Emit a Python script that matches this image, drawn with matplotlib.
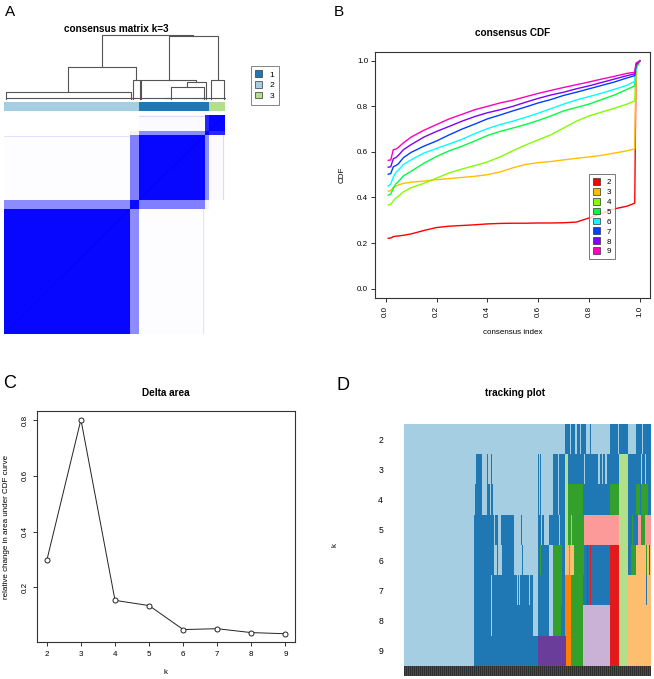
import numpy as np
import matplotlib
matplotlib.use("Agg")
import matplotlib.pyplot as plt
from matplotlib.colors import ListedColormap, LinearSegmentedColormap
from matplotlib.patches import Patch

plt.rcParams['font.family'] = ['Liberation Sans', 'DejaVu Sans']

# ---------------- data ----------------
# A: consensus matrix k=3, built from sample groups and group-to-group consensus
group_sizes = [126, 9, 66, 4, 16]
group_cluster = [2, 2, 1, 1, 3]
group_consensus = [
    [0.97, 0.45, 0.01, 0.00, 0.00],
    [0.45, 0.95, 0.50, 0.05, 0.00],
    [0.01, 0.50, 0.97, 0.45, 0.02],
    [0.00, 0.05, 0.45, 0.95, 0.85],
    [0.00, 0.00, 0.02, 0.85, 0.97],
]
stray_samples = [199, 219]
stray_group = [0, 2]
stray_value = [0.12, 0.15]
cluster_names = ['1', '2', '3']
cluster_colors = ['#1F78B4', '#A6CEE3', '#B2DF8A']

# dendrogram: node = (height, left, right); leaf = (x, comb_lo, comb_hi)
dendro = (1.00,
          (0.496,
           (0.104, (1, 1, 1), (126, 1, 126)),
           (0.302, (128.3, 126, 130), (135, 130, 135))),
          (0.972,
           (0.299, (136.7, 135, 165),
            (0.264, (0.181, (166, 160, 190), (199, 190, 200)), (201, 196, 204))),
           (0.299, (206.7, 204, 210), (219.3, 210, 220))))

# B: consensus CDF
cdf_x = [0.01, 0.02, 0.03, 0.04, 0.05, 0.07, 0.1, 0.15, 0.2, 0.25, 0.3, 0.35, 0.4, 0.45,
         0.5, 0.55, 0.6, 0.65, 0.7, 0.75, 0.8, 0.85, 0.9, 0.95, 0.98, 0.985, 1.0]
cdf_k2 = [0.221, 0.222, 0.228, 0.230, 0.231, 0.234, 0.240, 0.255, 0.268, 0.274, 0.277, 0.280, 0.284, 0.286,
          0.287, 0.287, 0.288, 0.288, 0.289, 0.292, 0.310, 0.330, 0.350, 0.362, 0.375, 0.98, 1.0]
cdf_k3 = [0.428, 0.430, 0.445, 0.450, 0.455, 0.462, 0.467, 0.472, 0.478, 0.483, 0.488, 0.493, 0.500, 0.512,
          0.530, 0.545, 0.553, 0.558, 0.565, 0.572, 0.578, 0.585, 0.595, 0.605, 0.613, 0.97, 1.0]
cdf_k4 = [0.367, 0.370, 0.385, 0.398, 0.405, 0.425, 0.443, 0.462, 0.485, 0.508, 0.525, 0.540, 0.556, 0.578,
          0.605, 0.630, 0.653, 0.675, 0.705, 0.735, 0.758, 0.775, 0.792, 0.810, 0.824, 0.96, 1.0]
cdf_k5 = [0.410, 0.415, 0.440, 0.460, 0.470, 0.495, 0.515, 0.550, 0.580, 0.605, 0.625, 0.648, 0.672, 0.690,
          0.705, 0.720, 0.738, 0.758, 0.780, 0.795, 0.810, 0.830, 0.850, 0.875, 0.890, 0.97, 1.0]
cdf_k6 = [0.450, 0.460, 0.490, 0.510, 0.520, 0.545, 0.565, 0.595, 0.615, 0.635, 0.655, 0.680, 0.702, 0.720,
          0.735, 0.752, 0.770, 0.790, 0.810, 0.828, 0.843, 0.858, 0.875, 0.893, 0.910, 0.975, 1.0]
cdf_k7 = [0.502, 0.505, 0.535, 0.540, 0.548, 0.575, 0.598, 0.625, 0.648, 0.675, 0.700, 0.722, 0.745, 0.762,
          0.780, 0.797, 0.815, 0.830, 0.848, 0.862, 0.877, 0.892, 0.907, 0.925, 0.935, 0.98, 1.0]
cdf_k8 = [0.533, 0.535, 0.570, 0.575, 0.585, 0.610, 0.632, 0.665, 0.690, 0.712, 0.735, 0.755, 0.772, 0.785,
          0.800, 0.818, 0.835, 0.850, 0.862, 0.877, 0.890, 0.905, 0.920, 0.935, 0.943, 0.985, 1.0]
cdf_k9 = [0.563, 0.565, 0.610, 0.612, 0.620, 0.640, 0.665, 0.695, 0.720, 0.745, 0.765, 0.785, 0.800, 0.815,
          0.827, 0.842, 0.857, 0.870, 0.883, 0.895, 0.907, 0.920, 0.932, 0.945, 0.950, 0.99, 1.0]
cdf_colors = ['#FF0000', '#FFBF00', '#80FF00', '#00FF40', '#00FFFF', '#0040FF', '#8000FF', '#FF00BF']

# C: delta area
k_values = [2, 3, 4, 5, 6, 7, 8, 9]
delta_area = [0.297, 0.802, 0.153, 0.134, 0.048, 0.051, 0.037, 0.033]

# D: tracking plot, run lengths of (palette index, n samples) per k
paired = ['#A6CEE3', '#1F78B4', '#B2DF8A', '#33A02C', '#FB9A99',
          '#E31A1C', '#FDBF6F', '#FF7F00', '#CAB2D6', '#6A3D9A']
runs_k2 = [(0, 161), (1, 5), (0, 1), (1, 4), (0, 2), (1, 3), (0, 1), (1, 5), (0, 4), (1, 1), (0, 19),
           (1, 8), (0, 1), (1, 9), (0, 8), (1, 6), (0, 1), (1, 8)]
runs_k3 = [(0, 72), (1, 6), (0, 5), (1, 1), (0, 3), (1, 1), (0, 46), (1, 1), (0, 1), (1, 1), (0, 12),
           (1, 5), (0, 1), (1, 6), (2, 3), (1, 16), (0, 1), (1, 13), (0, 2), (1, 2), (0, 1), (1, 2),
           (0, 2), (1, 1), (1, 11), (2, 9), (1, 13), (2, 1), (1, 3), (0, 1), (1, 5)]
runs_k4 = [(0, 71), (1, 7), (0, 5), (1, 3), (0, 1), (1, 2), (0, 45), (1, 1), (0, 1), (1, 1), (0, 12),
           (1, 5), (0, 1), (1, 6), (2, 3), (3, 15), (1, 27), (3, 9), (2, 9), (1, 8), (3, 4), (1, 1),
           (3, 7), (1, 3)]
runs_k5 = [(0, 70), (1, 20), (0, 1), (1, 3), (0, 3), (1, 13), (0, 7), (1, 1), (0, 16), (1, 3), (0, 1),
           (1, 2), (0, 5), (1, 10), (0, 1), (1, 5), (2, 3), (3, 3), (4, 1), (3, 12), (4, 35), (2, 9),
           (1, 4), (3, 1), (1, 5), (4, 3), (3, 4), (4, 6)]
runs_k6 = [(0, 70), (1, 20), (0, 3), (1, 1), (0, 4), (1, 12), (0, 8), (1, 1), (0, 15), (1, 2), (3, 1),
           (1, 8), (0, 4), (3, 9), (1, 3), (6, 4), (7, 1), (6, 4), (3, 10), (1, 3), (5, 1), (1, 2),
           (5, 1), (1, 19), (5, 9), (2, 9), (1, 3), (3, 5), (6, 10), (3, 1), (6, 2), (5, 1), (6, 1)]
runs_k7 = [(0, 70), (1, 17), (2, 1), (1, 25), (0, 1), (1, 1), (0, 1), (1, 9), (0, 1), (1, 3), (0, 5),
           (1, 11), (0, 4), (3, 9), (1, 3), (7, 6), (3, 12), (1, 4), (5, 1), (1, 2), (5, 1), (1, 19),
           (5, 9), (2, 9), (6, 18), (1, 1), (6, 4)]
runs_k8 = [(0, 70), (1, 17), (6, 1), (1, 41), (0, 5), (1, 11), (0, 4), (3, 8), (1, 4), (7, 6), (3, 12),
           (8, 27), (5, 9), (2, 9), (6, 23)]
runs_k9 = [(0, 70), (1, 64), (9, 28), (7, 5), (3, 12), (8, 27), (5, 9), (2, 9), (6, 23)]
track_ks = [2, 3, 4, 5, 6, 7, 8, 9]

# ---------------- figure ----------------
W, H = 654, 679
fig = plt.figure(figsize=(W / 100, H / 100), dpi=100)


def px_axes(x0, y0, x1, y1):
    return fig.add_axes([x0 / W, 1 - y1 / H, (x1 - x0) / W, (y1 - y0) / H])


def ftext(x, y, s, **kw):
    kw.setdefault('ha', 'center')
    kw.setdefault('va', 'center')
    fig.text(x / W, 1 - y / H, s, **kw)


FS = 5.8
TFS = 7.2
AXC = '#333333'

# ---- A ----
labels = np.repeat(np.arange(len(group_sizes)), group_sizes)
n_a = len(labels)
cons = np.array(group_consensus)[labels][:, labels]
for s, g, v in zip(stray_samples, stray_group, stray_value):
    cons[s, labels == g] = v
    cons[labels == g, s] = v
np.fill_diagonal(cons, 1.0)

axm = px_axes(4, 115, 225, 334)
wb = LinearSegmentedColormap.from_list('wb', ['white', 'blue'])
axm.imshow(cons, origin='lower', cmap=wb, vmin=0, vmax=1, aspect='auto',
           interpolation='nearest', extent=(-0.5, n_a - 0.5, -0.5, n_a - 0.5))
axm.axis('off')

axc = px_axes(4, 102, 225, 111)
sample_cluster = np.array(group_cluster)[labels]
axc.imshow(sample_cluster[None, :] - 1, cmap=ListedColormap(cluster_colors), vmin=0, vmax=2,
           aspect='auto', interpolation='nearest', extent=(-0.5, n_a - 0.5, 0, 1))
axc.axis('off')

axd = px_axes(4, 34.5, 225, 99)
axd.set_xlim(-0.5, n_a - 0.5)
axd.set_ylim(0, 1)
axd.axis('off')
dcol = '#555555'


def draw_node(node):
    if not isinstance(node[1], tuple):
        x, lo, hi = node
        if hi > lo:
            axd.plot([lo, hi], [0.012, 0.012], color=dcol, lw=0.8, clip_on=False)
        return x, 0.0
    h, left, right = node
    xl, hl = draw_node(left)
    xr, hr = draw_node(right)
    axd.plot([xl, xl, xr, xr], [hl, h, h, hr], color=dcol, lw=0.8, clip_on=False)
    return (xl + xr) / 2, h


draw_node(dendro)
ftext(116, 29.5, 'consensus matrix k=3', fontsize=TFS, fontweight='bold')

leg_a = fig.legend(handles=[Patch(facecolor=c, edgecolor='#333333', lw=0.5) for c in cluster_colors],
                   labels=cluster_names, loc='upper left', bbox_to_anchor=(250.7 / W, 1 - 65.7 / H),
                   borderaxespad=0, fontsize=FS + 0.3, frameon=True, fancybox=False,
                   handlelength=0.8, handleheight=0.8, handletextpad=0.9, borderpad=0.55,
                   labelspacing=0.3)
leg_a.get_frame().set_edgecolor('#666666')
leg_a.get_frame().set_linewidth(0.7)

# ---- B ----
axb = px_axes(375, 51.7, 650, 297.7)
for vals, c in zip([cdf_k2, cdf_k3, cdf_k4, cdf_k5, cdf_k6, cdf_k7, cdf_k8, cdf_k9], cdf_colors):
    axb.plot(cdf_x, vals, color=c, lw=1.0)
axb.set_xlim(-0.042, 1.04)
axb.set_ylim(-0.04, 1.04)
axb.set_xticks([0.0, 0.2, 0.4, 0.6, 0.8, 1.0])
axb.set_yticks([0.0, 0.2, 0.4, 0.6, 0.8, 1.0])
axb.set_xticklabels(['0.0', '0.2', '0.4', '0.6', '0.8', '1.0'], rotation=90)
axb.set_yticklabels(['0.0', '0.2', '0.4', '0.6', '0.8', '1.0'])
leg_b = axb.legend(handles=[Patch(facecolor=c, edgecolor='#333333', lw=0.5) for c in cdf_colors],
                   labels=[str(k) for k in k_values], loc='upper left',
                   bbox_to_anchor=((589 - 375) / 275, 1 - (174 - 51.7) / 246), borderaxespad=0,
                   fontsize=FS, frameon=True, fancybox=False, handlelength=0.9, handleheight=0.9,
                   handletextpad=0.8, borderpad=0.5, labelspacing=0.22)
leg_b.get_frame().set_edgecolor('#555555')
leg_b.get_frame().set_linewidth(0.7)
ftext(513, 33, 'consensus CDF', fontsize=TFS, fontweight='bold')
ftext(513, 332, 'consensus index', fontsize=FS)
ftext(342, 174.7, 'CDF', fontsize=FS, rotation=90)

# ---- C ----
axdc = px_axes(37.3, 411, 295, 642.3)
axdc.plot(k_values, delta_area, color='#222222', lw=0.7, marker='o', ms=3.6,
          mfc='white', mec='#222222', mew=0.7)
axdc.set_xlim(1.72, 9.28)
axdc.set_ylim(0.0022, 0.833)
axdc.set_xticks(k_values)
axdc.set_yticks([0.2, 0.4, 0.6, 0.8])
axdc.set_yticklabels(['0.2', '0.4', '0.6', '0.8'], rotation=90, va='center')
ftext(166, 393.3, 'Delta area', fontsize=TFS, fontweight='bold')
ftext(166, 673, 'k', fontsize=FS)
ftext(6.7, 526.5, 'relative change in area under CDF curve', fontsize=FS, rotation=90)

for ax in (axb, axdc):
    for sp in ax.spines.values():
        sp.set_color(AXC)
        sp.set_linewidth(0.8)
    ax.tick_params(direction='out', length=3, width=0.7, color=AXC, labelsize=FS, pad=2)
axdc.tick_params(axis='x', pad=3.5)
axdc.tick_params(axis='y', pad=3)
axb.tick_params(axis='x', pad=3)

# ---- D ----
n_t = sum(c for _, c in runs_k2)
track = np.array([np.repeat([r[0] for r in runs], [r[1] for r in runs])
                  for runs in [runs_k2, runs_k3, runs_k4, runs_k5, runs_k6, runs_k7, runs_k8, runs_k9]])
axt = px_axes(404, 424, 650.7, 666)
axt.imshow(track, cmap=ListedColormap(paired), vmin=-0.5, vmax=9.5, aspect='auto',
           interpolation='nearest', extent=(-0.5, n_t - 0.5, 9.5, 1.5))
axt.set_yticks(track_ks)
axt.set_yticklabels([str(k) for k in track_ks])
axt.set_xticks([])
axt.tick_params(length=0, labelsize=FS + 0.4, pad=15)
for sp in axt.spines.values():
    sp.set_visible(False)

axbar = px_axes(404, 666, 650.7, 676)
axbar.imshow((np.arange(n_t) % 2)[None, :], cmap=ListedColormap(['#2e2e2e', '#4a4a4a']),
             aspect='auto', interpolation='nearest', extent=(-0.5, n_t - 0.5, 0, 1))
axbar.axis('off')
ftext(515, 393, 'tracking plot', fontsize=TFS, fontweight='bold')
ftext(335, 545, 'k', fontsize=FS, rotation=90)

# panel letters
ftext(10, 12, 'A', fontsize=11)
ftext(339, 12, 'B', fontsize=11)
ftext(10, 383.5, 'C', fontsize=13)
ftext(343, 386, 'D', fontsize=13)

fig.savefig('out.png', dpi=100, facecolor='white')
